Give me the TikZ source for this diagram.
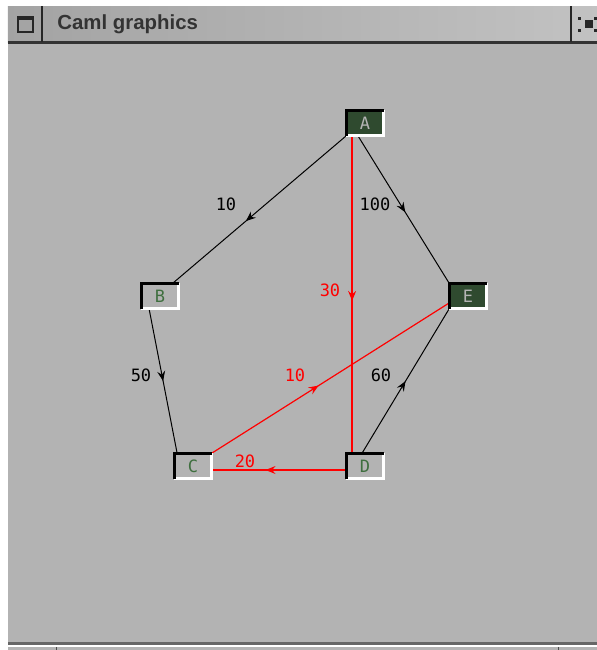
\documentclass[tikz,border=0pt]{standalone}
\usepackage{fontspec}
\newfontfamily\titlefont{Liberation Sans}
\newfontfamily\fixedfont{DejaVu Sans Mono}
\usetikzlibrary{arrows.meta, calc, decorations.markings}
\definecolor{winGray}{HTML}{B3B3B3}
\definecolor{nodeGreen}{HTML}{2F4A2F}
\definecolor{letterGreen}{HTML}{3F6F3F}
\definecolor{letterGray}{HTML}{B4B4B4}
\definecolor{titleDark}{HTML}{333333}

\begin{document}
\begin{tikzpicture}[
    x=0.5pt,
    y=-0.5pt,
    >=Stealth,
    % cajas de los vertices
    vertex/.style={rectangle, minimum width=18.5pt, minimum height=12.5pt, inner sep=0pt, font=\fixedfont\fontsize{8.5}{10}\selectfont},
    marked/.style={vertex, fill=nodeGreen, text=letterGray},
    plain/.style={vertex, text=letterGreen},
    weight/.style={font=\fixedfont\fontsize{8.5}{10}\selectfont, inner sep=0pt},
    midarrow/.style={postaction={decorate}, decoration={markings, mark=at position #1 with {\arrow{Stealth[length=5pt,width=4pt,inset=1.8pt]}}}},
    graphedge/.style={line width=0.5pt},
    pathedge/.style={red, line width=0.6pt}
]
    % --- 1. VENTANA ---
    \useasboundingbox (0,0) rectangle (597,650);
    \fill[white] (0,0) rectangle (597,650);
    \fill[winGray] (8,44) rectangle (597,642);
    \shade[left color=black!36, right color=black!24] (8,6) rectangle (597,42);
    \fill[black!80] (8,41) rectangle (597,44);
    \draw[line width=1pt, black!85] (42,6) -- (42,42);
    \draw[line width=1pt, black!85] (571,6) -- (571,42);
    % boton de la ventana
    \draw[line width=0.8pt, black!85] (18,17) rectangle (33,32);
    \fill[black!85] (18,17) rectangle (33,20);
    % icono de la derecha
    \foreach \px/\py in {580/18, 580/30, 596/18, 596/30} {
        \fill[black!85] (\px-1.5,\py-1.5) rectangle (\px+1.5,\py+1.5);
    }
    \fill[black!85] (585,20) rectangle (593,28);
    \node[font=\titlefont\bfseries\fontsize{10.2}{12}\selectfont, text=titleDark, anchor=west, inner sep=0pt] (title) at (57,24) {Caml graphics};
    % barra inferior
    \fill[black!60] (8,642) rectangle (597,645);
    \fill[white] (8,645) rectangle (597,647);
    \fill[winGray] (8,647) rectangle (597,650);
    \draw[line width=0.5pt, black!70] (57,647) -- (57,650);
    \draw[line width=0.5pt, black!70] (559,647) -- (559,650);

    % --- 2. VERTICES ---
    \node[marked] (A) at (365,123) {A};
    \node[plain]  (B) at (160,296) {B};
    \node[plain]  (C) at (193,466) {C};
    \node[plain]  (D) at (365,466) {D};
    \node[marked] (E) at (468,296) {E};

    % --- 3. ARISTAS ---
    \draw[graphedge, midarrow=0.58] (A.south west) -- ($(B.north east)+(-6,0)$);
    \draw[graphedge, midarrow=0.52] ($(A.south)+(-7,0)$) -- (E.north west);
    \draw[graphedge, midarrow=0.5] ($(B.south west)+(8,0)$) -- ($(C.north west)+(3,0)$);
    \draw[graphedge, midarrow=0.5] ($(D.north west)+(16,0)$) -- (E.south west);

    % camino en rojo
    \draw[pathedge, midarrow=0.52] ($(A.south west)+(6,0)$) -- ($(D.north west)+(6,0)$);
    \draw[pathedge, midarrow=0.45] (C.north east) -- ($(E.west)+(0,7)$);
    \draw[pathedge, midarrow=0.6] ($(D.west)+(0,4)$) -- ($(C.east)+(0,4)$);

    % --- 4. BORDES DE LAS CAJAS ---
    \foreach \n in {A,B,C,D,E} {
        \draw[line width=1.5pt, white] (\n.north east) -- (\n.south east) -- (\n.south west);
        \draw[line width=1.5pt, black] (\n.south west) -- (\n.north west) -- (\n.north east);
    }

    % --- 5. PESOS ---
    \node[weight] (wAB) at (226,204) {10};
    \node[weight] (wAE) at (375,204) {100};
    \node[weight] (wBC) at (141,375) {50};
    \node[weight] (wDE) at (381,375) {60};
    \node[weight, text=red] (wAD) at (330,290) {30};
    \node[weight, text=red] (wCE) at (295,375) {10};
    \node[weight, text=red] (wDC) at (245,461) {20};

\end{tikzpicture}
\end{document}
